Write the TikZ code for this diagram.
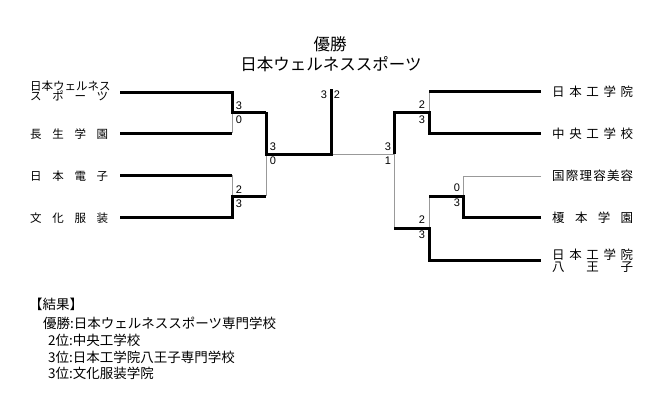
\documentclass[tikz,border=0pt]{standalone}
\usepackage{fontspec}
\newfontfamily\jp{Noto Sans CJK JP}
\newfontfamily\dig{Liberation Sans}
\newcommand{\jus}[2]{\makebox[#1][s]{#2}}
\begin{document}
\begin{tikzpicture}[x=1pt,y=-1pt,
  win/.style={line width=3pt, line join=miter, black},
  lose/.style={line width=1pt, black!40},
  sc/.style={font=\dig\fontsize{11}{12}\selectfont, inner sep=0pt},
  tml/.style={font=\jp\fontsize{11.5}{11}\selectfont, inner sep=0pt, anchor=west, align=left},
  tmr/.style={font=\jp\fontsize{12.5}{13}\selectfont, inner sep=0pt, anchor=west, align=left},
  ttl/.style={font=\jp\fontsize{16.5}{18}\selectfont, inner sep=0pt},
  res/.style={font=\jp\fontsize{13.5}{15}\selectfont, inner sep=0pt, anchor=west},
]
\useasboundingbox (0,0) rectangle (660,400);
% titles
\node[ttl] (t0) at (330,44) {優勝};
\node[ttl] (t1) at (331,64) {日本ウェルネススポーツ};
% left team names
\node[tml] (L1n) at (30,91) {\jus{78pt}{日\hfill 本\hfill ウ\hfill ェ\hfill ル\hfill ネ\hfill ス}\\[-0.5pt]\jus{78pt}{ス\hfill ポ\hfill ー\hfill ツ}};
\node[tml] (L2n) at (30,134) {\jus{78pt}{長\hfill 生\hfill 学\hfill 園}};
\node[tml] (L3n) at (30,176) {\jus{78pt}{日\hfill 本\hfill 電\hfill 子}};
\node[tml] (L4n) at (30,218) {\jus{78pt}{文\hfill 化\hfill 服\hfill 装}};
% right team names
\node[tmr] (R1n) at (552,92) {\jus{81pt}{日\hfill 本\hfill 工\hfill 学\hfill 院}};
\node[tmr] (R2n) at (552,134) {\jus{81pt}{中\hfill 央\hfill 工\hfill 学\hfill 校}};
\node[tmr] (R3n) at (552,176) {\jus{81pt}{国\hfill 際\hfill 理\hfill 容\hfill 美\hfill 容}};
\node[tmr] (R4n) at (552,218) {\jus{81pt}{榎\hfill 本\hfill 学\hfill 園}};
\node[tmr] (R5n) at (552,261) {\jus{81pt}{日\hfill 本\hfill 工\hfill 学\hfill 院}\\[-1pt]\jus{81pt}{八\hfill 王\hfill 子}};
% coordinates
\coordinate (l1s) at (120,92);  \coordinate (l1) at (232,92);
\coordinate (l2s) at (120,133); \coordinate (l2) at (232,133);
\coordinate (l3s) at (120,175); \coordinate (l3) at (232,175);
\coordinate (l4s) at (120,217); \coordinate (l4) at (232,217);
\coordinate (a) at (232,112); \coordinate (a2) at (266,112);
\coordinate (b) at (232,196); \coordinate (b2) at (266,196);
\coordinate (c) at (266,154); \coordinate (c2) at (331,154);
\coordinate (f) at (331,89);
\coordinate (d0) at (394,154);
\coordinate (d) at (394,112); \coordinate (d2) at (429,112);
\coordinate (r1) at (429,91);  \coordinate (r1e) at (541,91);
\coordinate (r2) at (429,133); \coordinate (r2e) at (541,133);
\coordinate (r3) at (463,176); \coordinate (r3e) at (541,176);
\coordinate (r4) at (463,217); \coordinate (r4e) at (541,217);
\coordinate (e) at (429,196); \coordinate (e2) at (463,196);
\coordinate (g) at (394,228); \coordinate (g2) at (429,228);
\coordinate (r5) at (429,260); \coordinate (r5e) at (541,260);
% thin (losing) lines
\draw[lose] (a) -- (l2);
\draw[lose] (l3) -- (b);
\draw[lose] (c) -- (b2);
\draw[lose] (c2) -- (d0);
\draw[lose] (r1) -- (d2);
\draw[lose] (d0) -- (g);
\draw[lose] (r3e) -- (r3) -- (e2);
\draw[lose] (e) -- (g2);
% thick (winning) lines
\draw[win] (l1s) -- (l1) -- (a) -- (a2);
\draw[win] (l2s) -- (l2);
\draw[win] (l3s) -- (l3);
\draw[win] (l4s) -- (l4) -- (b) -- (b2);
\draw[win] (a2) -- (c) -- (c2) -- (f);
\draw[win] (d0) -- (d) -- (d2) -- (r2) -- (r2e);
\draw[win] (r1) -- (r1e);
\draw[win] (r4e) -- (r4) -- (e2) -- (e);
\draw[win] (g) -- (g2) -- (r5) -- (r5e);
% scores
\node[sc] (s1) at (239,106) {3}; \node[sc] (s2) at (239,120) {0};
\node[sc] (s3) at (239,190) {2}; \node[sc] (s4) at (239,204) {3};
\node[sc] (s5) at (273,147) {3}; \node[sc] (s6) at (273,161) {0};
\node[sc] (s7) at (324,95) {3};  \node[sc] (s8) at (337,95) {2};
\node[sc] (s9) at (422,105) {2}; \node[sc] (s10) at (422,120) {3};
\node[sc] (s11) at (388,147) {3}; \node[sc] (s12) at (388,161) {1};
\node[sc] (s13) at (457,188) {0}; \node[sc] (s14) at (457,203) {3};
\node[sc] (s15) at (422,220) {2}; \node[sc] (s16) at (422,235) {3};
% results
\node[res] (k0) at (29,304) {【結果】};
\node[res] (k1) at (43,323) {優勝:日本ウェルネススポーツ専門学校};
\node[res] (k2) at (48,340) {2位:中央工学校};
\node[res] (k3) at (48,357) {3位:日本工学院八王子専門学校};
\node[res] (k4) at (48,373) {3位:文化服装学院};
\end{tikzpicture}
\end{document}
